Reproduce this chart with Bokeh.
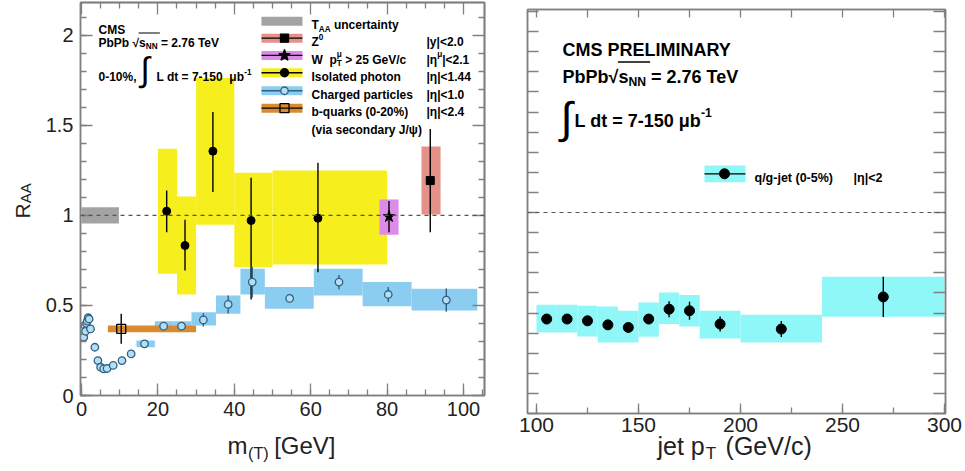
import math
from bokeh.plotting import figure
from bokeh.layouts import row, column
from bokeh.models import (Range1d, SingleIntervalTicker, FixedTicker, LinearAxis, Span, Label,
                          CustomJSTickFormatter)
from bokeh.embed import file_html
from bokeh.resources import INLINE

# ---------------- data: left panel (R_AA vs m(T)) ----------------
taa_box_x = [0.0, 9.8]
taa_box_y = [0.955, 1.045]

z_x = [91.3]
z_y = [1.194]
z_err_lo = [0.907]
z_err_hi = [1.48]
z_box_x = [89.0, 94.0]
z_box_y = [1.006, 1.383]

w_x = [80.5]
w_y = [0.994]
w_err_lo = [0.907]
w_err_hi = [1.08]
w_box_x = [78.0, 83.0]
w_box_y = [0.893, 1.089]

gam_x = [22.3, 27.1, 34.4, 44.4, 61.9]
gam_y = [1.024, 0.833, 1.357, 0.972, 0.985]
gam_err_lo = [0.907, 0.694, 1.13, 0.533, 0.685]
gam_err_hi = [1.139, 0.976, 1.575, 1.209, 1.293]
gam_edges = [20, 25, 30, 40, 50, 80]
gam_box_lo = [0.676, 0.561, 0.948, 0.713, 0.728]
gam_box_hi = [1.37, 1.105, 1.763, 1.237, 1.25]

ch_x = [0.6, 0.87, 1.05, 1.3, 1.5, 1.75, 2.0, 2.36, 3.5, 4.3, 5.0, 5.8, 6.7, 8.3,
        10.6, 13.0, 16.5, 21.5, 26.2, 31.9, 38.4, 44.7, 54.5, 67.4, 80.3, 95.5]
ch_y = [0.324, 0.389, 0.357, 0.40, 0.413, 0.432, 0.425, 0.37, 0.268, 0.194, 0.157,
        0.148, 0.15, 0.167, 0.194, 0.231, 0.287, 0.385, 0.385, 0.42, 0.506, 0.63,
        0.539, 0.63, 0.561, 0.53]
ch_err = [0, 0, 0, 0, 0, 0, 0, 0, 0, 0, 0, 0, 0, 0, 0, 0,
          0.015, 0.015, 0.015, 0.037, 0.05, 0.085, 0.02, 0.04, 0.042, 0.065]
ch_edges = [14.4, 19.2, 24.0, 28.8, 35.2, 41.6, 48.0, 60.8, 73.6, 86.4, 103.6]
ch_box_lo = [0.268, 0.358, 0.358, 0.389, 0.454, 0.561, 0.482, 0.556, 0.496, 0.472]
ch_box_hi = [0.306, 0.412, 0.412, 0.463, 0.556, 0.704, 0.602, 0.704, 0.63, 0.593]

b_x = [10.4]
b_y = [0.37]
b_err_lo = [0.287]
b_err_hi = [0.454]
b_box_x = [6.9, 30.0]
b_box_y = [0.352, 0.389]

# ---------------- data: right panel (R_AA vs jet pT) ----------------
jet_x = [105, 115, 125, 135, 145, 155, 165, 175, 190, 220, 270]
jet_y = [0.47, 0.47, 0.461, 0.441, 0.428, 0.47, 0.519, 0.511, 0.445, 0.42, 0.58]
jet_err = [0.02, 0.02, 0.02, 0.02, 0.02, 0.025, 0.04, 0.045, 0.037, 0.04, 0.1]
jet_edges = [100, 110, 120, 130, 140, 150, 160, 170, 180, 200, 240, 300]
jet_box_lo = [0.403, 0.403, 0.383, 0.353, 0.353, 0.382, 0.445, 0.433, 0.373, 0.353, 0.481]
jet_box_hi = [0.541, 0.541, 0.536, 0.532, 0.511, 0.552, 0.602, 0.59, 0.511, 0.491, 0.68]

# ---------------- styles ----------------
YEL = "#f7ef1d"
BLU = "#8bcdf1"
ZC = "#e49189"
WC = "#dc8ce8"
BC = "#d98a2e"
GRY = "#a3a3a3"
CYA = "#8ff7f8"
FRAME = "#808080"
CHE = "#31617f"
FONT = "Liberation Sans"
NB = "\u00a0"

AB = {' ': 278, '!': 333, '%': 889, '(': 333, ')': 333, ',': 278, '-': 333, '.': 278,
      '/': 278, '<': 584, '=': 584, '>': 584, '|': 280, 'A': 722, 'B': 722, 'C': 722,
      'D': 722, 'E': 667, 'G': 778, 'I': 278, 'J': 556, 'L': 611, 'M': 833, 'N': 722,
      'P': 667, 'R': 722, 'S': 667, 'T': 611, 'V': 667, 'W': 944, 'Y': 667, 'Z': 611,
      'a': 556, 'b': 611, 'c': 556, 'd': 611, 'e': 556, 'g': 611, 'h': 611, 'i': 278,
      'j': 278, 'k': 556, 'l': 278, 'n': 611, 'o': 611, 'p': 611, 'q': 611, 'r': 389,
      's': 556, 't': 333, 'u': 611, 'v': 556, 'y': 556, 'μ': 611, 'η': 611, 'ψ': 750,
      '√': 549, '∫': 274, NB: 278}
AR = {' ': 278, '(': 333, ')': 333, '/': 278, '[': 278, ']': 278, 'G': 778, 'V': 667,
      'T': 611, 'R': 722, 'A': 667, 'e': 556, 'j': 222, 't': 278, 'p': 556, 'c': 500,
      'm': 833, NB: 278}


def tw(s, size, bold=True):
    tab = AB if bold else AR
    return sum(tab.get(c, 556) for c in s) / 1000.0 * size


def rich(p, fx, fy, x0, base, parts, size, bold=True, color="black", side=None):
    """Place a line of text made of normal / sub / superscript pieces."""
    cur = x0
    xs = []
    for txt, kind in parts:
        if kind == "n":
            sz, dy = size, 0.0
        elif kind == "sub":
            sz, dy = size * 0.68, size * 0.3
        else:  # sup / supk (supk: no advance, stacked with following sub)
            sz, dy = size * 0.68, -size * 0.42
        lead = len(txt) - len(txt.lstrip(" "))
        cur += lead * tw(" ", sz, bold)
        t = txt.lstrip(" ").replace("  ", " " + NB)
        lbl = Label(x=fx(cur), y=fy(base + dy), text=t,
                    text_font_size=f"{sz:.1f}px", text_font=FONT,
                    text_font_style="bold" if bold else "normal",
                    text_baseline="alphabetic", text_align="left", text_color=color)
        if side:
            p.add_layout(lbl, side)
        else:
            p.add_layout(lbl)
        xs.append(cur)
        if kind != "supk":
            cur += tw(t, sz, bold)
    return xs, cur


def mirror_axis(p, side, ticks, length):
    ax = LinearAxis(ticker=FixedTicker(ticks=[], minor_ticks=ticks),
                    axis_line_color=FRAME, axis_line_width=1.5,
                    minor_tick_line_color=FRAME, minor_tick_line_width=1.3,
                    minor_tick_in=length, minor_tick_out=0,
                    major_tick_in=0, major_tick_out=0, major_label_standoff=0,
                    major_label_text_font_size="0px", axis_label_standoff=0)
    p.add_layout(ax, side)
    return ax


def style_main_axis(ax):
    ax.axis_line_color = FRAME
    ax.axis_line_width = 1.5
    ax.major_tick_line_color = FRAME
    ax.minor_tick_line_color = FRAME
    ax.major_tick_line_width = 1.3
    ax.minor_tick_line_width = 1.3
    ax.major_tick_out = 0
    ax.minor_tick_out = 0
    ax.axis_label_standoff = 0
    ax.major_label_text_font = FONT
    ax.major_label_text_color = "#222222"


# =============== LEFT FIGURE ===============
p1 = figure(width=500, height=471, output_backend="svg", toolbar_location=None,
            x_range=Range1d(-0.26, 105.5), y_range=Range1d(0, 2.183),
            min_border_left=80, min_border_right=16, min_border_top=2, min_border_bottom=76)
p1.grid.visible = False
p1.outline_line_color = FRAME
p1.outline_line_width = 1.5
p1.background_fill_color = "white"
p1.border_fill_color = "white"

style_main_axis(p1.xaxis[0])
style_main_axis(p1.yaxis[0])
p1.xaxis[0].ticker = SingleIntervalTicker(interval=20, num_minor_ticks=4)
p1.yaxis[0].ticker = SingleIntervalTicker(interval=0.5, num_minor_ticks=5)
for ax in [p1.xaxis[0], p1.yaxis[0]]:
    ax.major_tick_in = 12
    ax.minor_tick_in = 6
    ax.major_label_text_font_size = "20px"
p1.xaxis[0].major_label_standoff = 6
p1.yaxis[0].major_label_standoff = 7
p1.yaxis[0].formatter = CustomJSTickFormatter(code="return String(Math.round(tick*10)/10);")

x_major_1 = [0, 20, 40, 60, 80, 100]
x_minor_1 = [v for v in range(5, 105, 5) if v % 20 != 0]
y_major_1 = [0.0, 0.5, 1.0, 1.5, 2.0]
y_minor_1 = [round(0.1 * i, 1) for i in range(1, 22) if i % 5 != 0]
mirror_axis(p1, "above", x_major_1, 12)
mirror_axis(p1, "above", x_minor_1, 6)
mirror_axis(p1, "right", y_major_1, 12)
mirror_axis(p1, "right", y_minor_1, 6)


def lx(px):
    return (px - 81.0) / 3.82


def ly(py):
    return (395.0 - py) / 180.0


# boxes
p1.quad(left=[taa_box_x[0]], right=[taa_box_x[1]], bottom=[taa_box_y[0]], top=[taa_box_y[1]],
        fill_color=GRY, line_color=None)
p1.quad(left=gam_edges[:-1], right=gam_edges[1:], bottom=gam_box_lo, top=gam_box_hi,
        fill_color=YEL, line_color=None)
p1.quad(left=ch_edges[:-1], right=ch_edges[1:], bottom=ch_box_lo, top=ch_box_hi,
        fill_color=BLU, line_color=None)
p1.quad(left=[b_box_x[0]], right=[b_box_x[1]], bottom=[b_box_y[0]], top=[b_box_y[1]],
        fill_color=BC, line_color=None)
p1.quad(left=[z_box_x[0]], right=[z_box_x[1]], bottom=[z_box_y[0]], top=[z_box_y[1]],
        fill_color=ZC, line_color=None)
p1.quad(left=[w_box_x[0]], right=[w_box_x[1]], bottom=[w_box_y[0]], top=[w_box_y[1]],
        fill_color=WC, line_color=None)

p1.add_layout(Span(location=1.0, dimension="width", line_color="#555555",
                   line_dash="4 4", line_width=1.2))

# error bars
p1.segment(x0=gam_x, x1=gam_x, y0=gam_err_lo, y1=gam_err_hi, line_color="black", line_width=1.4)
p1.segment(x0=z_x, x1=z_x, y0=z_err_lo, y1=z_err_hi, line_color="black", line_width=1.4)
p1.segment(x0=w_x, x1=w_x, y0=w_err_lo, y1=w_err_hi, line_color="black", line_width=1.4)
p1.segment(x0=b_x, x1=b_x, y0=b_err_lo, y1=b_err_hi, line_color="black", line_width=1.4)
ch_lo = [y - e for y, e in zip(ch_y, ch_err)]
ch_hi = [y + e for y, e in zip(ch_y, ch_err)]
p1.segment(x0=ch_x, x1=ch_x, y0=ch_lo, y1=ch_hi, line_color=CHE, line_width=1.4)

# markers
p1.scatter(ch_x, ch_y, marker="circle", size=7.5, fill_color="#b3def5", line_color=CHE,
           line_width=1.3)
p1.scatter(gam_x, gam_y, marker="circle", size=8, fill_color="black", line_color="black")
p1.scatter(z_x, z_y, marker="square", size=8, fill_color="black", line_color="black")
p1.scatter(w_x, w_y, marker="star", size=12, fill_color="black", line_color="black")
p1.scatter(b_x, b_y, marker="square", size=9, fill_color=None, line_color="black", line_width=1.3)

# ---- left legend (drawn ROOT style) ----
rows_py = [20.7, 37.7, 55.0, 72.3, 90.3, 107.7, 125.0]
sw_cols = [GRY, ZC, WC, YEL, BLU, BC]
for i, c in enumerate(sw_cols):
    py = rows_py[i]
    p1.quad(left=[lx(261)], right=[lx(302)], bottom=[ly(py + 4.5)], top=[ly(py - 4.5)],
            fill_color=c, line_color=None)
    if i > 0:
        p1.segment(x0=[lx(261)], x1=[lx(302)], y0=[ly(py)], y1=[ly(py)],
                   line_color="black" if i != 4 else CHE, line_width=1.3)
mk = [(1, "square", 8, "black", "black"), (2, "star", 12, "black", "black"),
      (3, "circle", 8, "black", "black"), (4, "circle", 7.5, "#b3def5", CHE),
      (5, "square", 9, None, "black")]
for i, m, s, fc, lc in mk:
    p1.scatter([lx(284)], [ly(rows_py[i])], marker=m, size=s, fill_color=fc, line_color=lc,
               line_width=1.3)

LS = 12
TX = 311
RX = 426
bl = [py + 4.3 for py in rows_py]
rich(p1, lx, ly, TX, bl[0], [("T", "n"), ("AA", "sub"), (" uncertainty", "n")], LS)
rich(p1, lx, ly, TX, bl[1], [("Z", "n"), ("0", "sup")], LS)
rich(p1, lx, ly, RX, bl[1], [("|y|<2.0", "n")], LS)
rich(p1, lx, ly, TX, bl[2], [("W  p", "n"), ("μ", "supk"), ("T", "sub"), (" > 25 GeV/c", "n")], LS)
rich(p1, lx, ly, RX, bl[2], [("|η", "n"), ("μ", "sup"), ("|<2.1", "n")], LS)
rich(p1, lx, ly, TX, bl[3], [("Isolated photon", "n")], LS)
rich(p1, lx, ly, RX, bl[3], [("|η|<1.44", "n")], LS)
rich(p1, lx, ly, TX, bl[4], [("Charged particles", "n")], LS)
rich(p1, lx, ly, RX, bl[4], [("|η|<1.0", "n")], LS)
rich(p1, lx, ly, TX, bl[5], [("b-quarks (0-20%)", "n")], LS)
rich(p1, lx, ly, RX, bl[5], [("|η|<2.4", "n")], LS)
rich(p1, lx, ly, TX, bl[6], [("(via secondary J/ψ)", "n")], LS)

# ---- left header text ----
rich(p1, lx, ly, 98, 29.5, [("CMS", "n")], LS)
xs, end = rich(p1, lx, ly, 98, 42.5, [("PbPb", "n"), (" √", "n"), ("s", "n"), ("NN", "sub"),
                                      (" = 2.76 TeV", "n")], LS)
p1.segment(x0=[lx(xs[2] - 0.5)], x1=[lx(xs[4] - 1)], y0=[ly(42.5 - 10)], y1=[ly(42.5 - 10)],
           line_color="black", line_width=1.1)
rich(p1, lx, ly, 98, 76.5, [("0-10%,", "n")], LS)
p1.add_layout(Label(x=lx(140), y=ly(69), text="∫", text_font_size="34px", text_font=FONT,
                    text_baseline="middle", text_align="left", text_color="black"))
rich(p1, lx, ly, 156, 76.5, [("L dt = 7-150  μb", "n"), ("-1", "sup")], LS)

# ---- left axis titles (placed in the side panels) ----
p1.add_layout(Label(x=lx(227), y=ly(445), text="m" + NB * 4 + "[GeV]", text_font_size="24px",
                    text_font=FONT, text_baseline="alphabetic", text_align="left",
                    text_color="#222222"), "below")
p1.add_layout(Label(x=lx(227 + tw("m", 24, False) + 0.5), y=ly(452), text="(T)",
                    text_font_size="16.3px", text_font=FONT, text_baseline="alphabetic",
                    text_align="left", text_color="#222222"), "below")
p1.add_layout(Label(x=lx(22), y=ly(218), text="R", angle=math.pi / 2, text_font_size="21px",
                    text_font=FONT, text_baseline="alphabetic", text_align="left",
                    text_color="#222222"), "left")
p1.add_layout(Label(x=lx(25.5), y=ly(218 - tw("R", 21, False)), text="AA", angle=math.pi / 2,
                    text_font_size="15px", text_font=FONT, text_baseline="alphabetic",
                    text_align="left", text_color="#222222"), "left")

# =============== RIGHT FIGURE ===============
p2 = figure(width=465, height=471, output_backend="svg", toolbar_location=None,
            x_range=Range1d(95.59, 300.49), y_range=Range1d(0, 2.01),
            min_border_left=27, min_border_right=20, min_border_top=9, min_border_bottom=58)
p2.grid.visible = False
p2.outline_line_color = FRAME
p2.outline_line_width = 1.5
p2.background_fill_color = "white"
p2.border_fill_color = "white"

style_main_axis(p2.xaxis[0])
style_main_axis(p2.yaxis[0])
p2.xaxis[0].ticker = SingleIntervalTicker(interval=50, num_minor_ticks=2)
p2.xaxis[0].major_tick_in = 10
p2.xaxis[0].minor_tick_in = 6
p2.xaxis[0].major_label_text_font_size = "21px"
p2.xaxis[0].major_label_standoff = 4
y_ticks_2 = [round(0.1 * i, 1) for i in range(0, 21)]
p2.yaxis[0].ticker = FixedTicker(ticks=[], minor_ticks=y_ticks_2)
p2.yaxis[0].minor_tick_in = 11
p2.yaxis[0].major_label_standoff = 0
p2.yaxis[0].major_label_text_font_size = "0px"
x_ticks_2 = [100 + 25 * i for i in range(0, 9)]
mirror_axis(p2, "above", x_ticks_2, 8)
mirror_axis(p2, "right", y_ticks_2, 12)


def rx(px):
    return 100.0 + (px - 536.0) / 2.04


def ry(py):
    return (413.0 - py) / 201.0


p2.quad(left=jet_edges[:-1], right=jet_edges[1:], bottom=jet_box_lo, top=jet_box_hi,
        fill_color=CYA, line_color=None)
p2.add_layout(Span(location=1.0, dimension="width", line_color="#555555",
                   line_dash="4 4", line_width=1.2))
jlo = [y - e for y, e in zip(jet_y, jet_err)]
jhi = [y + e for y, e in zip(jet_y, jet_err)]
p2.segment(x0=jet_x, x1=jet_x, y0=jlo, y1=jhi, line_color="black", line_width=1.4)
p2.scatter(jet_x, jet_y, marker="circle", size=10, fill_color="black", line_color="black")

# legend
p2.quad(left=[rx(704)], right=[rx(745)], bottom=[ry(181.7)], top=[ry(165)],
        fill_color=CYA, line_color=None)
p2.segment(x0=[rx(704)], x1=[rx(745)], y0=[ry(173.3)], y1=[ry(173.3)], line_color="black",
           line_width=1.3)
p2.scatter([rx(724)], [ry(173.3)], marker="circle", size=10, fill_color="black",
           line_color="black")
rich(p2, rx, ry, 754, 177.8, [("q/g-jet (0-5%)", "n")], 12.5)
rich(p2, rx, ry, 853, 177.8, [("|η|<2", "n")], 12.5)

# header
HS = 18
rich(p2, rx, ry, 562, 49, [("CMS PRELIMINARY", "n")], HS)
xs, end = rich(p2, rx, ry, 562, 76, [("PbPb", "n"), ("√", "n"), ("s", "n"), ("NN", "sub"),
                                     (" = 2.76 TeV", "n")], HS)
p2.segment(x0=[rx(xs[2] - 0.5)], x1=[rx(xs[4] - 1)], y0=[ry(76 - 14.5)], y1=[ry(76 - 14.5)],
           line_color="black", line_width=1.4)
p2.add_layout(Label(x=rx(560), y=ry(117), text="∫", text_font_size="44px", text_font=FONT,
                    text_baseline="middle", text_align="left", text_color="black"))
rich(p2, rx, ry, 574, 120, [("L dt = 7-150 μb", "n"), ("-1", "sup")], HS)

# axis title (base text below the axis, subscript kept in the spare left border)
p2.add_layout(Label(x=rx(657), y=ry(446), text="jet p" + NB * 3 + "(GeV/c)",
                    text_font_size="25px", text_font=FONT, text_baseline="alphabetic",
                    text_align="left", text_color="#222222"), "below")
p2.add_layout(Label(x=rx(657 + tw("jet p", 25, False) + 1), y=ry(453.5), text="T",
                    text_font_size="17px", text_font=FONT, text_baseline="alphabetic",
                    text_align="left", text_color="#222222"), "left")

# each plot in its own box so that their borders are not aligned with each other
layout = row(column(p1), column(p2))
open("out.html", "w").write(file_html(layout, INLINE))
